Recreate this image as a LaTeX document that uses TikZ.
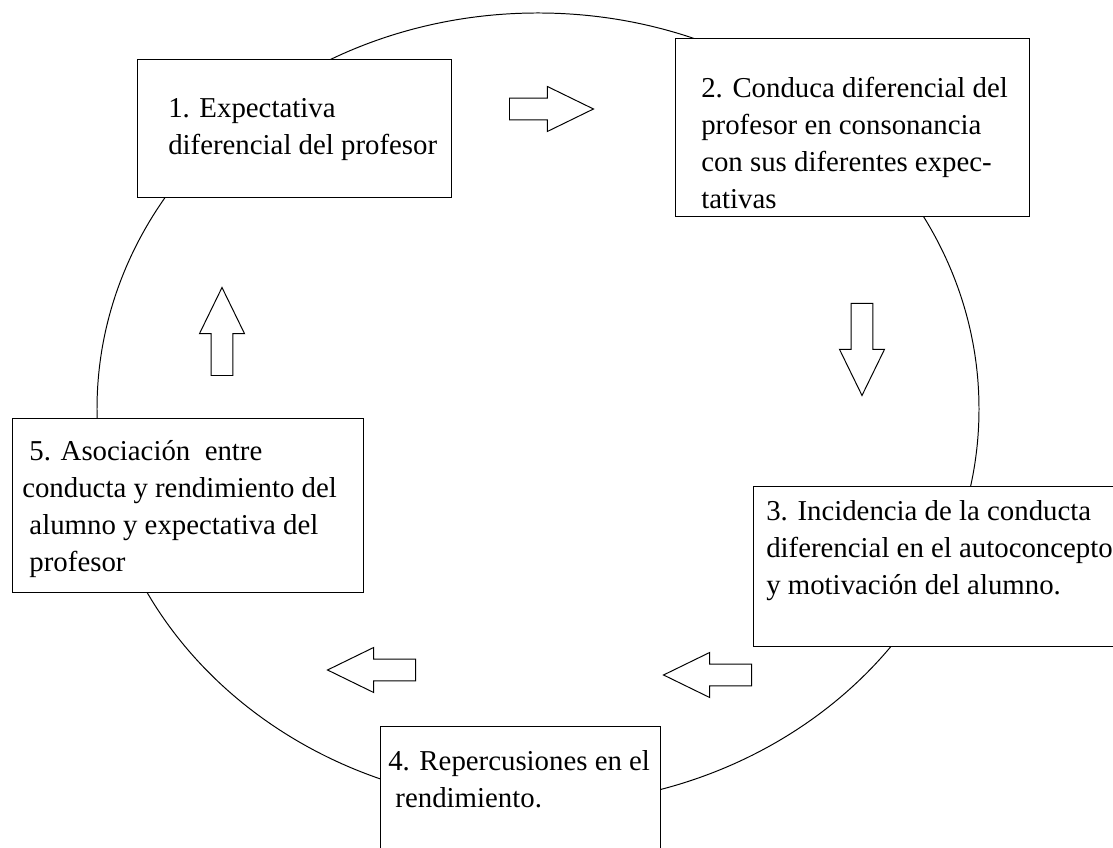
\documentclass[tikz,border=0pt]{standalone}
\usepackage{fontspec}
\setmainfont{Liberation Serif}
\usetikzlibrary{shapes.arrows,positioning}

\begin{document}
\begin{tikzpicture}[
    every node/.style={inner sep=0pt},
    stagebox/.style={draw=black, line width=1pt, fill=white, anchor=north west},
    stagetext/.style={anchor=north west, align=left, font=\fontsize{20.5}{26.3}\selectfont},
    flowarrow/.style={
        single arrow, draw=black, line width=0.7pt, fill=white,
        inner xsep=0pt, inner ysep=0.26cm,
        minimum height=2.2cm, minimum width=1.1cm,
        single arrow head extend=0.29cm, single arrow tip angle=52,
        single arrow head indent=0pt, anchor=tail}
]

% Canvas
\clip (0,0) rectangle (27.825,21.2);

% Cycle ellipse behind the boxes
\draw[line width=0.7pt] (13.45,10.975) ellipse [x radius=11.025, y radius=9.9];

% Stage boxes
\node[stagebox, minimum width=7.85cm, minimum height=3.45cm] (expect) at (3.425,19.725) {};
\node[stagebox, minimum width=8.85cm, minimum height=4.45cm] (conduct) at (16.875,20.25) {};
\node[stagebox, minimum width=9.5cm, minimum height=4.0cm] (impact) at (18.825,9.05) {};
\node[stagebox, minimum width=7.0cm, minimum height=3.5cm] (perform) at (9.5,3.05) {};
\node[stagebox, minimum width=8.775cm, minimum height=4.35cm] (assoc) at (0.3,10.75) {};

% Stage texts
\node[stagetext] (expect-text) at ([xshift=0.775cm, yshift=-0.975cm]expect.north west)
    {1. Expectativa\\diferencial del profesor};
\node[stagetext] (conduct-text) at ([xshift=0.65cm, yshift=-0.975cm]conduct.north west)
    {2. Conduca diferencial del\\profesor en consonancia\\con sus diferentes expec-\\tativas};
\node[stagetext] (impact-text) at ([xshift=0.325cm, yshift=-0.35cm]impact.north west)
    {3. Incidencia de la conducta\\diferencial en el autoconcepto\\y motivación del alumno.};
\node[stagetext] (perform-text) at ([xshift=0.2cm, yshift=-0.6cm]perform.north west)
    {4. Repercusiones en el\\\hspace*{.25em}rendimiento.};
\node[stagetext] (assoc-text) at ([xshift=0.25cm, yshift=-0.55cm]assoc.north west)
    {\hspace*{.25em}5. Asociación~ entre\\conducta y rendimiento del\\\hspace*{.25em}alumno y expectativa del\\\hspace*{.25em}profesor};

% Block arrows
\node[flowarrow, minimum height=2.1cm] (to-conduct) at (12.725,18.475) {};
\node[flowarrow, rotate=-90, minimum height=2.3cm] (to-impact) at (21.55,13.625) {};
\node[flowarrow, rotate=180] (to-perform) at (18.8,4.325) {};
\node[flowarrow, rotate=180] (to-assoc) at (10.4,4.45) {};
\node[flowarrow, rotate=90] (to-expect) at (5.55,11.8) {};

\end{tikzpicture}
\end{document}
